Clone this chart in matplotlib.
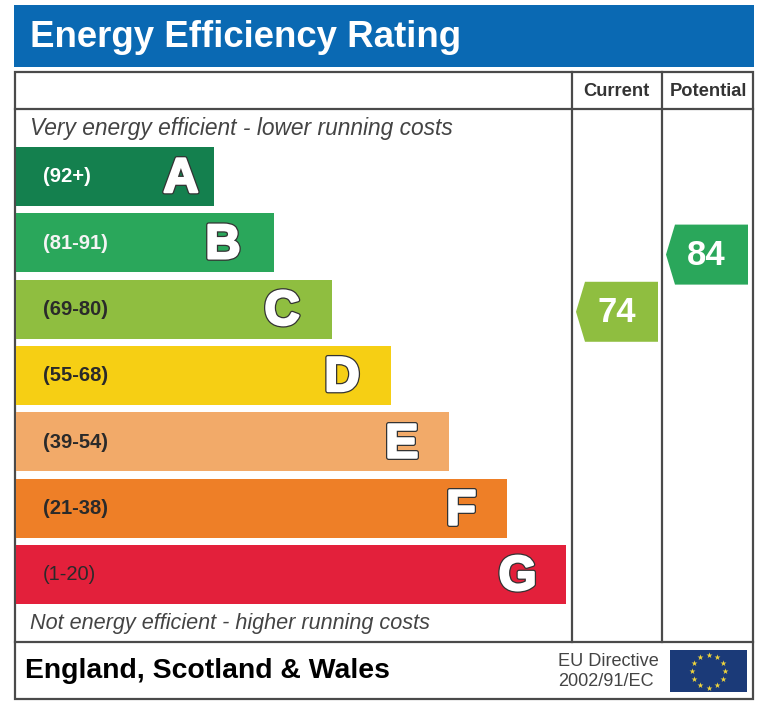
import numpy as np
import matplotlib
matplotlib.use("Agg")
import matplotlib.pyplot as plt
import matplotlib.patheffects as pe
from matplotlib.patches import Polygon, Rectangle

plt.rcParams['font.family'] = ['Liberation Sans', 'DejaVu Sans']

# --- band data ---
letters = ['A', 'B', 'C', 'D', 'E', 'F', 'G']
range_labels = ['(92+)', '(81-91)', '(69-80)', '(55-68)', '(39-54)', '(21-38)', '(1-20)']
band_low = [92, 81, 69, 55, 39, 21, 1]
band_high = [100, 91, 80, 68, 54, 38, 20]
bar_lengths = [198, 258, 316, 375, 433, 491, 550]
bar_colors = ['#14804e', '#2aa75b', '#8fbe40', '#f6cf14', '#f2aa69', '#ee7f27', '#e3203b']
label_colors = ['white', '#f4f4f4', '#2a2a2a', '#2a2a2a', '#2a2a2a', '#2a2a2a', '#2a2a2a']

current_score = 74
potential_score = 84

BG = 'white'
LINE = '#4a4a4a'
BLUE = '#0a69b3'

fig = plt.figure(figsize=(7.68, 7.17), dpi=100, facecolor=BG)
ax = fig.add_axes([0, 0, 1, 1])
ax.set_xlim(0, 768)
ax.set_ylim(717, 0)
ax.axis('off')

# --- header ---
ax.add_patch(Rectangle((14, 5), 740, 62, fc=BLUE, ec='none'))
ax.text(30, 37.5, 'Energy Efficiency Rating', color='white', fontsize=26.4, weight='bold', va='center', ha='left')

# --- frame ---
ax.add_patch(Rectangle((15, 72), 738, 627, fc='none', ec=LINE, lw=1.6))
ax.plot([15, 753], [109, 109], color=LINE, lw=1.6)
ax.plot([15, 753], [642, 642], color=LINE, lw=1.6)
ax.plot([572, 572], [72, 642], color=LINE, lw=1.6)
ax.plot([662, 662], [72, 642], color=LINE, lw=1.6)

ax.text(616, 91.5, 'Current', color='#333333', fontsize=13.2, weight='bold', ha='center', va='center')
ax.text(708.5, 91.5, 'Potential', color='#333333', fontsize=13.2, weight='bold', ha='center', va='center')

ax.text(30, 129, 'Very energy efficient - lower running costs', color='#444444', fontsize=16.4, style='italic', va='center')
ax.text(30, 623.5, 'Not energy efficient - higher running costs', color='#444444', fontsize=15.6, style='italic', va='center')

# --- bands ---
band_top = 147
band_step = 66.3
bar_height = 59
letter_gap = [14, 32, 31, 30, 30, 30, 28]
tops = [band_top + i * band_step for i in range(len(letters))]

for i, letter in enumerate(letters):
    ax.barh(tops[i] + bar_height / 2, bar_lengths[i], height=bar_height, left=16, color=bar_colors[i])
    ax.text(43, tops[i] + bar_height / 2 + 0.5, range_labels[i], color=label_colors[i], fontsize=14.5,
            weight='bold' if i < 6 else 'normal', va='center')
    # heavy white letter with a thin dark edge
    ax.text(16 + bar_lengths[i] - letter_gap[i] - 1.5, tops[i] + bar_height / 2 + 3, letter, color='white',
            fontsize=35, weight='bold', ha='right', va='center',
            path_effects=[pe.withStroke(linewidth=3.6, foreground='#333333'),
                          pe.withStroke(linewidth=1.8, foreground='white')])


def draw_pointer(score, left, width=82, height=60):
    # y position follows the score inside its band
    for i in range(len(letters)):
        if band_low[i] <= score <= band_high[i]:
            frac = (score - band_low[i]) / (band_high[i] - band_low[i])
            y = tops[i] + bar_height * (1 - frac)
            color = bar_colors[i]
    pts = [(left, y), (left + 9, y - height / 2), (left + width, y - height / 2),
           (left + width, y + height / 2), (left + 9, y + height / 2)]
    ax.add_patch(Polygon(pts, closed=True, fc=color, ec='none'))
    ax.text(left + width / 2 - 0.5, y + 1, str(score), color='white', fontsize=25, weight='bold', ha='center', va='center')


draw_pointer(current_score, 576)
draw_pointer(potential_score, 666)

# --- footer ---
ax.text(25, 671, 'England, Scotland & Wales', color='black', fontsize=20.4, weight='bold', va='center')
ax.text(558, 661, 'EU Directive', color='#444444', fontsize=13.1, va='center')
ax.text(558, 682, '2002/91/EC', color='#444444', fontsize=13.1, va='center')

# --- EU flag ---
ax.add_patch(Rectangle((670, 650), 77, 42, fc='#1b3a78', ec='none'))
angles = np.deg2rad(np.arange(0, 360, 30))
ax.scatter(708.5 + 16.5 * np.cos(angles), 671 + 16.5 * np.sin(angles), marker='*', s=20, color='#f0d53c', linewidths=0)

fig.savefig('out.png', dpi=100, facecolor=BG)
